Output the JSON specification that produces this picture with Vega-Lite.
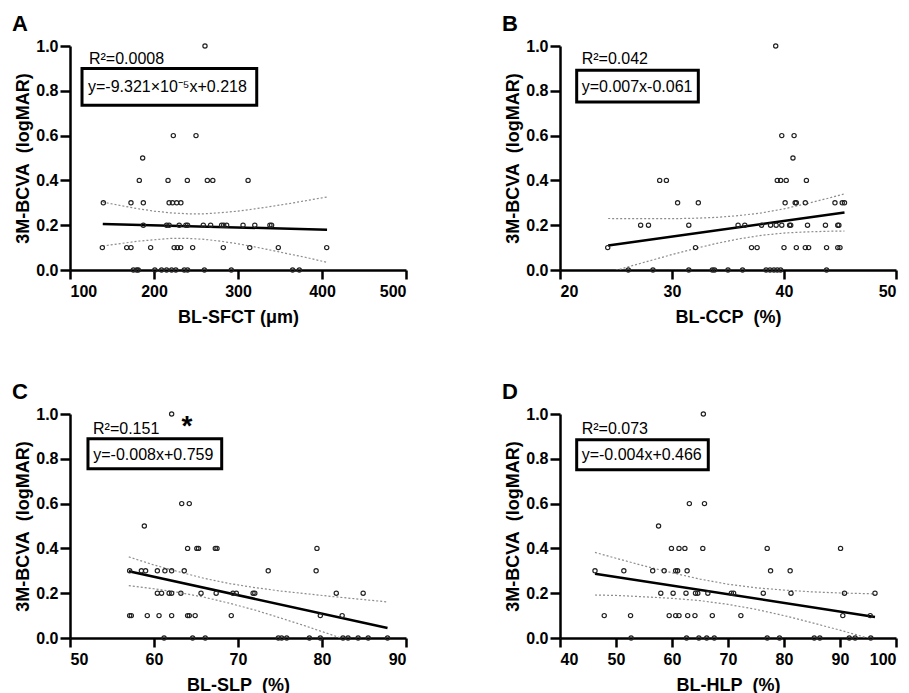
{
  "$schema": "https://vega.github.io/schema/vega-lite/v6.json",
  "background": "white",
  "padding": {"left": 12, "top": 13, "right": 5, "bottom": 5},
  "config": {
    "font": "Liberation Sans",
    "view": {"stroke": null},
    "axis": {"grid": false, "domainColor": "black", "domainWidth": 2.5, "tickColor": "black", "tickWidth": 2.5, "labelFont": "Liberation Sans", "labelFontWeight": "bold", "labelFontSize": 16, "labelColor": "black", "titleFont": "Liberation Sans", "titleFontWeight": "bold", "titleFontSize": 18, "titleColor": "black"},
    "axisX": {"tickSize": 9, "labelPadding": 4, "titlePadding": 9},
    "axisY": {"tickSize": 10, "labelPadding": 2, "titlePadding": 3},
    "title": {"anchor": "start", "frame": "group", "fontSize": 22, "fontWeight": "bold", "color": "black", "dx": -58, "offset": 2}
  },
  "datasets": {
    "pts": [
      {"p":"A","x":260.7,"y":1},
      {"p":"A","x":223,"y":0.6},{"p":"A","x":250,"y":0.6},
      {"p":"A","x":186.5,"y":0.5},
      {"p":"A","x":182.5,"y":0.4},{"p":"A","x":216.7,"y":0.4},{"p":"A","x":239.7,"y":0.4},{"p":"A","x":263.5,"y":0.4},{"p":"A","x":270,"y":0.4},{"p":"A","x":312,"y":0.4},
      {"p":"A","x":139.7,"y":0.3},{"p":"A","x":172.6,"y":0.3},{"p":"A","x":187.3,"y":0.3},{"p":"A","x":218,"y":0.3},{"p":"A","x":222,"y":0.3},{"p":"A","x":227,"y":0.3},{"p":"A","x":232,"y":0.3},
      {"p":"A","x":187.3,"y":0.2},{"p":"A","x":215,"y":0.2},{"p":"A","x":218,"y":0.2},{"p":"A","x":230,"y":0.2},{"p":"A","x":238,"y":0.2},{"p":"A","x":240,"y":0.2},{"p":"A","x":258.7,"y":0.2},{"p":"A","x":267.4,"y":0.2},{"p":"A","x":280.5,"y":0.2},{"p":"A","x":283,"y":0.2},{"p":"A","x":286.5,"y":0.2},{"p":"A","x":306,"y":0.2},{"p":"A","x":320,"y":0.2},{"p":"A","x":338,"y":0.2},{"p":"A","x":340,"y":0.2},
      {"p":"A","x":138.5,"y":0.1},{"p":"A","x":167.5,"y":0.1},{"p":"A","x":172.6,"y":0.1},{"p":"A","x":196,"y":0.1},{"p":"A","x":224,"y":0.1},{"p":"A","x":227.8,"y":0.1},{"p":"A","x":231.8,"y":0.1},{"p":"A","x":246,"y":0.1},{"p":"A","x":282.5,"y":0.1},{"p":"A","x":314,"y":0.1},{"p":"A","x":348,"y":0.1},{"p":"A","x":405.6,"y":0.1},
      {"p":"A","x":175.4,"y":0},{"p":"A","x":179.4,"y":0},{"p":"A","x":181.3,"y":0},{"p":"A","x":201,"y":0},{"p":"A","x":209,"y":0},{"p":"A","x":215,"y":0},{"p":"A","x":221,"y":0},{"p":"A","x":226,"y":0},{"p":"A","x":236,"y":0},{"p":"A","x":240,"y":0},{"p":"A","x":260,"y":0},{"p":"A","x":292,"y":0},{"p":"A","x":365,"y":0},{"p":"A","x":373,"y":0},

      {"p":"B","x":39.26,"y":1},
      {"p":"B","x":39.8,"y":0.6},{"p":"B","x":40.9,"y":0.6},
      {"p":"B","x":40.8,"y":0.5},
      {"p":"B","x":28.9,"y":0.4},{"p":"B","x":29.5,"y":0.4},{"p":"B","x":39.4,"y":0.4},{"p":"B","x":39.7,"y":0.4},{"p":"B","x":40.2,"y":0.4},{"p":"B","x":42.0,"y":0.4},
      {"p":"B","x":30.5,"y":0.3},{"p":"B","x":32.35,"y":0.3},{"p":"B","x":40.1,"y":0.3},{"p":"B","x":41.0,"y":0.3},{"p":"B","x":41.1,"y":0.3},{"p":"B","x":41.9,"y":0.3},{"p":"B","x":44.55,"y":0.3},{"p":"B","x":45.2,"y":0.3},{"p":"B","x":45.4,"y":0.3},
      {"p":"B","x":27.2,"y":0.2},{"p":"B","x":27.9,"y":0.2},{"p":"B","x":31.5,"y":0.2},{"p":"B","x":35.9,"y":0.2},{"p":"B","x":36.5,"y":0.2},{"p":"B","x":38.0,"y":0.2},{"p":"B","x":38.8,"y":0.2},{"p":"B","x":39.3,"y":0.2},{"p":"B","x":39.8,"y":0.2},{"p":"B","x":40.5,"y":0.2},{"p":"B","x":40.6,"y":0.2},{"p":"B","x":42.1,"y":0.2},{"p":"B","x":43.7,"y":0.2},{"p":"B","x":44.8,"y":0.2},{"p":"B","x":44.9,"y":0.2},
      {"p":"B","x":24.26,"y":0.1},{"p":"B","x":32.1,"y":0.1},{"p":"B","x":37.1,"y":0.1},{"p":"B","x":37.6,"y":0.1},{"p":"B","x":40.0,"y":0.1},{"p":"B","x":41.1,"y":0.1},{"p":"B","x":41.9,"y":0.1},{"p":"B","x":42.2,"y":0.1},{"p":"B","x":43.8,"y":0.1},{"p":"B","x":44.8,"y":0.1},{"p":"B","x":45.0,"y":0.1},
      {"p":"B","x":26.1,"y":0},{"p":"B","x":28.3,"y":0},{"p":"B","x":31.5,"y":0},{"p":"B","x":33.6,"y":0},{"p":"B","x":33.8,"y":0},{"p":"B","x":35.0,"y":0},{"p":"B","x":36.3,"y":0},{"p":"B","x":38.4,"y":0},{"p":"B","x":38.75,"y":0},{"p":"B","x":39.1,"y":0},{"p":"B","x":39.4,"y":0},{"p":"B","x":39.7,"y":0},{"p":"B","x":43.8,"y":0},

      {"p":"C","x":62.1,"y":1},
      {"p":"C","x":63.3,"y":0.6},{"p":"C","x":64.2,"y":0.6},
      {"p":"C","x":58.85,"y":0.5},
      {"p":"C","x":64.0,"y":0.4},{"p":"C","x":65.1,"y":0.4},{"p":"C","x":65.3,"y":0.4},{"p":"C","x":67.3,"y":0.4},{"p":"C","x":67.5,"y":0.4},{"p":"C","x":79.4,"y":0.4},
      {"p":"C","x":57.1,"y":0.3},{"p":"C","x":58.5,"y":0.3},{"p":"C","x":59.0,"y":0.3},{"p":"C","x":60.4,"y":0.3},{"p":"C","x":61.3,"y":0.3},{"p":"C","x":62.1,"y":0.3},{"p":"C","x":63.6,"y":0.3},{"p":"C","x":73.6,"y":0.3},{"p":"C","x":79.3,"y":0.3},
      {"p":"C","x":60.4,"y":0.2},{"p":"C","x":60.9,"y":0.2},{"p":"C","x":61.8,"y":0.2},{"p":"C","x":62.1,"y":0.2},{"p":"C","x":63.2,"y":0.2},{"p":"C","x":65.6,"y":0.2},{"p":"C","x":67.4,"y":0.2},{"p":"C","x":69.4,"y":0.2},{"p":"C","x":69.8,"y":0.2},{"p":"C","x":71.8,"y":0.2},{"p":"C","x":72.0,"y":0.2},{"p":"C","x":81.7,"y":0.2},{"p":"C","x":84.9,"y":0.2},
      {"p":"C","x":57.1,"y":0.1},{"p":"C","x":57.3,"y":0.1},{"p":"C","x":59.2,"y":0.1},{"p":"C","x":60.6,"y":0.1},{"p":"C","x":62.1,"y":0.1},{"p":"C","x":64.0,"y":0.1},{"p":"C","x":64.2,"y":0.1},{"p":"C","x":64.9,"y":0.1},{"p":"C","x":69.2,"y":0.1},{"p":"C","x":79.8,"y":0.1},{"p":"C","x":82.4,"y":0.1},
      {"p":"C","x":61.2,"y":0},{"p":"C","x":64.6,"y":0},{"p":"C","x":66.1,"y":0},{"p":"C","x":74.8,"y":0},{"p":"C","x":75.2,"y":0},{"p":"C","x":75.8,"y":0},{"p":"C","x":78.5,"y":0},{"p":"C","x":79.8,"y":0},{"p":"C","x":82.5,"y":0},{"p":"C","x":83.1,"y":0},{"p":"C","x":84.3,"y":0},{"p":"C","x":85.5,"y":0},{"p":"C","x":87.8,"y":0},

      {"p":"D","x":65.6,"y":1},
      {"p":"D","x":63.1,"y":0.6},{"p":"D","x":65.8,"y":0.6},
      {"p":"D","x":57.6,"y":0.5},
      {"p":"D","x":59.9,"y":0.4},{"p":"D","x":61.25,"y":0.4},{"p":"D","x":62.3,"y":0.4},{"p":"D","x":65.5,"y":0.4},{"p":"D","x":77.0,"y":0.4},{"p":"D","x":90.1,"y":0.4},
      {"p":"D","x":46.25,"y":0.3},{"p":"D","x":51.4,"y":0.3},{"p":"D","x":56.55,"y":0.3},{"p":"D","x":58.6,"y":0.3},{"p":"D","x":60.65,"y":0.3},{"p":"D","x":61.0,"y":0.3},{"p":"D","x":62.7,"y":0.3},{"p":"D","x":77.6,"y":0.3},{"p":"D","x":81.1,"y":0.3},
      {"p":"D","x":58.0,"y":0.2},{"p":"D","x":60.2,"y":0.2},{"p":"D","x":62.5,"y":0.2},{"p":"D","x":64.2,"y":0.2},{"p":"D","x":64.6,"y":0.2},{"p":"D","x":66.4,"y":0.2},{"p":"D","x":70.6,"y":0.2},{"p":"D","x":71.0,"y":0.2},{"p":"D","x":76.3,"y":0.2},{"p":"D","x":81.25,"y":0.2},{"p":"D","x":90.8,"y":0.2},{"p":"D","x":96.25,"y":0.2},
      {"p":"D","x":47.9,"y":0.1},{"p":"D","x":52.6,"y":0.1},{"p":"D","x":59.5,"y":0.1},{"p":"D","x":60.65,"y":0.1},{"p":"D","x":61.25,"y":0.1},{"p":"D","x":62.8,"y":0.1},{"p":"D","x":64.1,"y":0.1},{"p":"D","x":67.2,"y":0.1},{"p":"D","x":72.3,"y":0.1},{"p":"D","x":90.5,"y":0.1},{"p":"D","x":95.4,"y":0.1},
      {"p":"D","x":52.7,"y":0},{"p":"D","x":62.6,"y":0},{"p":"D","x":64.8,"y":0},{"p":"D","x":66.2,"y":0},{"p":"D","x":67.55,"y":0},{"p":"D","x":77.0,"y":0},{"p":"D","x":79.2,"y":0},{"p":"D","x":85.4,"y":0},{"p":"D","x":86.4,"y":0},{"p":"D","x":91.65,"y":0},{"p":"D","x":92.7,"y":0},{"p":"D","x":95.5,"y":0}
    ],
    "fit": [
      {"p":"A","x":139,"y":0.205},{"p":"A","x":406,"y":0.180},
      {"p":"B","x":24.3,"y":0.109},{"p":"B","x":45.4,"y":0.257},
      {"p":"C","x":57,"y":0.298},{"p":"C","x":87.8,"y":0.045},
      {"p":"D","x":46.25,"y":0.287},{"p":"D","x":96.25,"y":0.094}
    ],
    "band": [
      {"p":"A","part":"lo","x":139,"y":0.107},{"p":"A","part":"lo","x":160,"y":0.118},{"p":"A","part":"lo","x":180,"y":0.128},{"p":"A","part":"lo","x":200,"y":0.135},{"p":"A","part":"lo","x":220,"y":0.141},{"p":"A","part":"lo","x":240,"y":0.141},{"p":"A","part":"lo","x":260,"y":0.137},{"p":"A","part":"lo","x":280,"y":0.128},{"p":"A","part":"lo","x":300,"y":0.117},{"p":"A","part":"lo","x":320,"y":0.103},{"p":"A","part":"lo","x":340,"y":0.088},{"p":"A","part":"lo","x":360,"y":0.072},{"p":"A","part":"lo","x":380,"y":0.057},{"p":"A","part":"lo","x":406,"y":0.034},
      {"p":"A","part":"hi","x":139,"y":0.303},{"p":"A","part":"hi","x":160,"y":0.288},{"p":"A","part":"hi","x":180,"y":0.274},{"p":"A","part":"hi","x":200,"y":0.263},{"p":"A","part":"hi","x":220,"y":0.255},{"p":"A","part":"hi","x":240,"y":0.251},{"p":"A","part":"hi","x":260,"y":0.251},{"p":"A","part":"hi","x":280,"y":0.256},{"p":"A","part":"hi","x":300,"y":0.263},{"p":"A","part":"hi","x":320,"y":0.273},{"p":"A","part":"hi","x":340,"y":0.284},{"p":"A","part":"hi","x":360,"y":0.296},{"p":"A","part":"hi","x":380,"y":0.309},{"p":"A","part":"hi","x":406,"y":0.326},
      {"p":"B","part":"lo","x":24.3,"y":-0.012},{"p":"B","part":"lo","x":26,"y":0.013},{"p":"B","part":"lo","x":28,"y":0.041},{"p":"B","part":"lo","x":30,"y":0.069},{"p":"B","part":"lo","x":32,"y":0.095},{"p":"B","part":"lo","x":34,"y":0.119},{"p":"B","part":"lo","x":36,"y":0.139},{"p":"B","part":"lo","x":38,"y":0.155},{"p":"B","part":"lo","x":40,"y":0.165},{"p":"B","part":"lo","x":42,"y":0.170},{"p":"B","part":"lo","x":44,"y":0.173},{"p":"B","part":"lo","x":45.4,"y":0.174},
      {"p":"B","part":"hi","x":24.3,"y":0.230},{"p":"B","part":"hi","x":26,"y":0.229},{"p":"B","part":"hi","x":28,"y":0.229},{"p":"B","part":"hi","x":30,"y":0.229},{"p":"B","part":"hi","x":32,"y":0.231},{"p":"B","part":"hi","x":34,"y":0.235},{"p":"B","part":"hi","x":36,"y":0.243},{"p":"B","part":"hi","x":38,"y":0.255},{"p":"B","part":"hi","x":40,"y":0.273},{"p":"B","part":"hi","x":42,"y":0.296},{"p":"B","part":"hi","x":44,"y":0.321},{"p":"B","part":"hi","x":45.4,"y":0.340},
      {"p":"C","part":"lo","x":57,"y":0.234},{"p":"C","part":"lo","x":60,"y":0.220},{"p":"C","part":"lo","x":63,"y":0.203},{"p":"C","part":"lo","x":66,"y":0.182},{"p":"C","part":"lo","x":69,"y":0.155},{"p":"C","part":"lo","x":72,"y":0.125},{"p":"C","part":"lo","x":75,"y":0.090},{"p":"C","part":"lo","x":78,"y":0.054},{"p":"C","part":"lo","x":81,"y":0.016},{"p":"C","part":"lo","x":84,"y":-0.023},{"p":"C","part":"lo","x":87.8,"y":-0.071},
      {"p":"C","part":"hi","x":57,"y":0.362},{"p":"C","part":"hi","x":60,"y":0.326},{"p":"C","part":"hi","x":63,"y":0.295},{"p":"C","part":"hi","x":66,"y":0.266},{"p":"C","part":"hi","x":69,"y":0.243},{"p":"C","part":"hi","x":72,"y":0.225},{"p":"C","part":"hi","x":75,"y":0.210},{"p":"C","part":"hi","x":78,"y":0.198},{"p":"C","part":"hi","x":81,"y":0.186},{"p":"C","part":"hi","x":84,"y":0.175},{"p":"C","part":"hi","x":87.8,"y":0.161},
      {"p":"D","part":"lo","x":46.25,"y":0.192},{"p":"D","part":"lo","x":50,"y":0.190},{"p":"D","part":"lo","x":55,"y":0.184},{"p":"D","part":"lo","x":60,"y":0.177},{"p":"D","part":"lo","x":65,"y":0.167},{"p":"D","part":"lo","x":70,"y":0.150},{"p":"D","part":"lo","x":75,"y":0.128},{"p":"D","part":"lo","x":80,"y":0.100},{"p":"D","part":"lo","x":85,"y":0.068},{"p":"D","part":"lo","x":90,"y":0.035},{"p":"D","part":"lo","x":96.25,"y":-0.009},
      {"p":"D","part":"hi","x":46.25,"y":0.382},{"p":"D","part":"hi","x":50,"y":0.356},{"p":"D","part":"hi","x":55,"y":0.322},{"p":"D","part":"hi","x":60,"y":0.291},{"p":"D","part":"hi","x":65,"y":0.263},{"p":"D","part":"hi","x":70,"y":0.240},{"p":"D","part":"hi","x":75,"y":0.224},{"p":"D","part":"hi","x":80,"y":0.214},{"p":"D","part":"hi","x":85,"y":0.206},{"p":"D","part":"hi","x":90,"y":0.201},{"p":"D","part":"hi","x":96.25,"y":0.197}
    ],
    "boxes": [
      {"p":"A","x":114.3,"x2":322.3,"y":0.899,"y2":0.735},
      {"p":"B","x":21.49,"x2":32.35,"y":0.892,"y2":0.75},
      {"p":"C","x":52.14,"x2":68.06,"y":0.890,"y2":0.756},
      {"p":"D","x":42.98,"x2":66.48,"y":0.885,"y2":0.751}
    ],
    "notes": [
      {"p":"A","k":"t","x":122.6,"y":0.918,"label":"R²=0.0008"},
      {"p":"A","k":"t","x":121.4,"y":0.795,"label":"y=-9.321×10⁻⁵x+0.218"},
      {"p":"B","k":"t","x":21.94,"y":0.918,"label":"R²=0.042"},
      {"p":"B","k":"t","x":21.94,"y":0.795,"label":"y=0.007x-0.061"},
      {"p":"C","k":"t","x":52.74,"y":0.912,"label":"R²=0.151"},
      {"p":"C","k":"s","x":63.93,"y":0.905,"label":"*"},
      {"p":"C","k":"t","x":52.77,"y":0.796,"label":"y=-0.008x+0.759"},
      {"p":"D","k":"t","x":43.87,"y":0.912,"label":"R²=0.073"},
      {"p":"D","k":"t","x":43.87,"y":0.796,"label":"y=-0.004x+0.466"}
    ]
  },
  "columns": 2,
  "spacing": {"row": 144, "column": 154},
  "bounds": "flush",
  "concat": [
    {
      "width": 336, "height": 224,
      "title": {"text": "A"},
      "encoding": {
        "x": {"field": "x", "type": "quantitative", "scale": {"domain": [100, 500], "nice": false, "zero": false}, "axis": {"values": [100, 200, 300, 400, 500], "format": "d", "title": "BL-SFCT (μm)"}},
        "y": {"field": "y", "type": "quantitative", "scale": {"domain": [0, 1], "nice": false}, "axis": {"values": [0, 0.2, 0.4, 0.6, 0.8, 1], "format": ".1f", "title": "3M-BCVA\u00a0 (logMAR)"}}
      },
      "layer": [
        {"data": {"name": "band"}, "transform": [{"filter": "datum.p==='A'"}], "mark": {"type": "line", "clip": true, "color": "#8c8c8c", "strokeWidth": 1.2, "strokeDash": [2, 2]}, "encoding": {"detail": {"field": "part"}}},
        {"data": {"name": "fit"}, "transform": [{"filter": "datum.p==='A'"}], "mark": {"type": "line", "color": "black", "strokeWidth": 2.5}, "encoding": {}},
        {"data": {"name": "pts"}, "transform": [{"filter": "datum.p==='A'"}], "mark": {"type": "point", "shape": "circle", "filled": false, "color": "#222222", "size": 18, "strokeWidth": 1.2, "opacity": 1}},
        {"data": {"name": "boxes"}, "transform": [{"filter": "datum.p==='A'"}], "mark": {"type": "rect", "fill": "white", "stroke": "black", "strokeWidth": 3}, "encoding": {"x2": {"field": "x2"}, "y2": {"field": "y2"}}},
        {"data": {"name": "notes"}, "transform": [{"filter": "datum.p==='A' && datum.k==='t'"}], "mark": {"type": "text", "align": "left", "baseline": "alphabetic", "fontSize": 16, "color": "black"}, "encoding": {"text": {"field": "label"}}}
      ]
    },
    {
      "width": 336, "height": 224,
      "title": {"text": "B"},
      "encoding": {
        "x": {"field": "x", "type": "quantitative", "scale": {"domain": [20, 50], "nice": false, "zero": false}, "axis": {"values": [20, 30, 40, 50], "format": "d", "title": "BL-CCP\u00a0 (%)"}},
        "y": {"field": "y", "type": "quantitative", "scale": {"domain": [0, 1], "nice": false}, "axis": {"values": [0, 0.2, 0.4, 0.6, 0.8, 1], "format": ".1f", "title": "3M-BCVA\u00a0 (logMAR)"}}
      },
      "layer": [
        {"data": {"name": "band"}, "transform": [{"filter": "datum.p==='B'"}], "mark": {"type": "line", "clip": true, "color": "#8c8c8c", "strokeWidth": 1.2, "strokeDash": [2, 2]}, "encoding": {"detail": {"field": "part"}}},
        {"data": {"name": "fit"}, "transform": [{"filter": "datum.p==='B'"}], "mark": {"type": "line", "color": "black", "strokeWidth": 2.5}, "encoding": {}},
        {"data": {"name": "pts"}, "transform": [{"filter": "datum.p==='B'"}], "mark": {"type": "point", "shape": "circle", "filled": false, "color": "#222222", "size": 18, "strokeWidth": 1.2, "opacity": 1}},
        {"data": {"name": "boxes"}, "transform": [{"filter": "datum.p==='B'"}], "mark": {"type": "rect", "fill": "white", "stroke": "black", "strokeWidth": 3}, "encoding": {"x2": {"field": "x2"}, "y2": {"field": "y2"}}},
        {"data": {"name": "notes"}, "transform": [{"filter": "datum.p==='B' && datum.k==='t'"}], "mark": {"type": "text", "align": "left", "baseline": "alphabetic", "fontSize": 16, "color": "black"}, "encoding": {"text": {"field": "label"}}}
      ]
    },
    {
      "width": 336, "height": 224,
      "title": {"text": "C"},
      "encoding": {
        "x": {"field": "x", "type": "quantitative", "scale": {"domain": [50, 90], "nice": false, "zero": false}, "axis": {"values": [50, 60, 70, 80, 90], "format": "d", "title": "BL-SLP\u00a0 (%)"}},
        "y": {"field": "y", "type": "quantitative", "scale": {"domain": [0, 1], "nice": false}, "axis": {"values": [0, 0.2, 0.4, 0.6, 0.8, 1], "format": ".1f", "title": "3M-BCVA\u00a0 (logMAR)"}}
      },
      "layer": [
        {"data": {"name": "band"}, "transform": [{"filter": "datum.p==='C'"}], "mark": {"type": "line", "clip": true, "color": "#8c8c8c", "strokeWidth": 1.2, "strokeDash": [2, 2]}, "encoding": {"detail": {"field": "part"}}},
        {"data": {"name": "fit"}, "transform": [{"filter": "datum.p==='C'"}], "mark": {"type": "line", "color": "black", "strokeWidth": 2.5}, "encoding": {}},
        {"data": {"name": "pts"}, "transform": [{"filter": "datum.p==='C'"}], "mark": {"type": "point", "shape": "circle", "filled": false, "color": "#222222", "size": 18, "strokeWidth": 1.2, "opacity": 1}},
        {"data": {"name": "boxes"}, "transform": [{"filter": "datum.p==='C'"}], "mark": {"type": "rect", "fill": "white", "stroke": "black", "strokeWidth": 3}, "encoding": {"x2": {"field": "x2"}, "y2": {"field": "y2"}}},
        {"data": {"name": "notes"}, "transform": [{"filter": "datum.p==='C' && datum.k==='t'"}], "mark": {"type": "text", "align": "left", "baseline": "alphabetic", "fontSize": 16, "color": "black"}, "encoding": {"text": {"field": "label"}}},
        {"data": {"name": "notes"}, "transform": [{"filter": "datum.p==='C' && datum.k==='s'"}], "mark": {"type": "text", "align": "center", "baseline": "alphabetic", "fontSize": 28, "fontWeight": "bold", "color": "black"}, "encoding": {"text": {"field": "label"}}}
      ]
    },
    {
      "width": 336, "height": 224,
      "title": {"text": "D"},
      "encoding": {
        "x": {"field": "x", "type": "quantitative", "scale": {"domain": [40, 100], "nice": false, "zero": false}, "axis": {"values": [40, 50, 60, 70, 80, 90, 100], "format": "d", "title": "BL-HLP\u00a0 (%)"}},
        "y": {"field": "y", "type": "quantitative", "scale": {"domain": [0, 1], "nice": false}, "axis": {"values": [0, 0.2, 0.4, 0.6, 0.8, 1], "format": ".1f", "title": "3M-BCVA\u00a0 (logMAR)"}}
      },
      "layer": [
        {"data": {"name": "band"}, "transform": [{"filter": "datum.p==='D'"}], "mark": {"type": "line", "clip": true, "color": "#8c8c8c", "strokeWidth": 1.2, "strokeDash": [2, 2]}, "encoding": {"detail": {"field": "part"}}},
        {"data": {"name": "fit"}, "transform": [{"filter": "datum.p==='D'"}], "mark": {"type": "line", "color": "black", "strokeWidth": 2.5}, "encoding": {}},
        {"data": {"name": "pts"}, "transform": [{"filter": "datum.p==='D'"}], "mark": {"type": "point", "shape": "circle", "filled": false, "color": "#222222", "size": 18, "strokeWidth": 1.2, "opacity": 1}},
        {"data": {"name": "boxes"}, "transform": [{"filter": "datum.p==='D'"}], "mark": {"type": "rect", "fill": "white", "stroke": "black", "strokeWidth": 3}, "encoding": {"x2": {"field": "x2"}, "y2": {"field": "y2"}}},
        {"data": {"name": "notes"}, "transform": [{"filter": "datum.p==='D' && datum.k==='t'"}], "mark": {"type": "text", "align": "left", "baseline": "alphabetic", "fontSize": 16, "color": "black"}, "encoding": {"text": {"field": "label"}}}
      ]
    }
  ]
}
